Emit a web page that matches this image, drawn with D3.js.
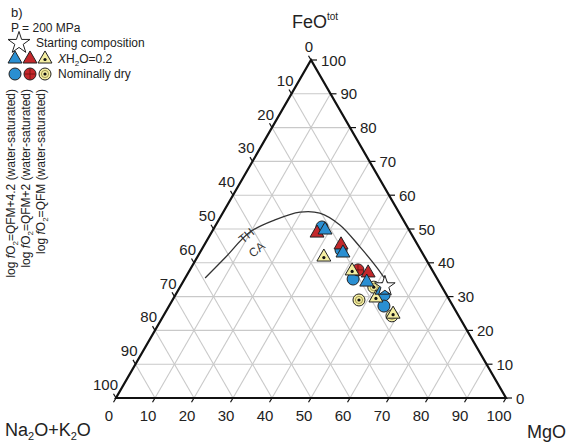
<!DOCTYPE html>
<html>
<head>
<meta charset="utf-8">
<script src="https://cdn.jsdelivr.net/npm/d3@7"></script>
<style>
  body { margin: 0; background: #fff; }
  svg { display: block; font-family: "Liberation Sans", Arial, sans-serif; }
</style>
</head>
<body>
<div id="root"></div>
<script>
// compositions as [Na2O+K2O, FeOtot, MgO] in percent
const blueTriangles = [[21.4, 50.0, 28.6], [20.2, 43.2, 36.6], [18.4, 34.6, 47.0], [15.7, 32.2, 52.1]];
const blueCircles = [[21.9, 50.6, 27.5], [20.4, 43.8, 35.8], [21.6, 35.2, 43.2], [16.0, 30.5, 53.5], [17.7, 27.2, 55.1]];
const redTriangles = [[23.9, 49.1, 27.0], [19.5, 45.6, 34.9], [16.7, 37.3, 46.0]];
const redCircles = [[19.0, 37.9, 43.1]];
const yellowTriangles = [[25.7, 42.0, 32.3], [20.5, 37.9, 41.6], [18.4, 29.9, 51.7], [16.4, 25.1, 58.5]];
const yellowCircles = [[17.5, 32.8, 49.7], [23.2, 29.0, 47.8], [17.1, 24.3, 58.6]];
const startComp = [[14.5, 33.1, 52.4]];
// TH / CA dividing curve
const thcaCurve = [[59.4, 35.5, 5.1], [51.4, 41.4, 7.2], [41.1, 49.1, 9.8], [32.9, 52.7, 14.4],
  [25.3, 55.0, 19.7], [20.4, 54.7, 24.9], [17.0, 51.2, 31.8], [14.9, 44.7, 40.2], [13.8, 38.5, 47.7], [13.3, 34.0, 52.7]];
const ticks = [0, 10, 20, 30, 40, 50, 60, 70, 80, 90, 100];
const legendRows = ["XH2O=0.2", "Nominally dry"];
const buffers = ["QFM+4.2", "QFM+2", "QFM"];

const width = 583;
const height = 445;
const colors = { blue: "#2a8fd2", red: "#c3282b", yellow: "#f4eea2" };
const stroke = "#222";

const svg = d3.select("#root").append("svg")
  .attr("width", width).attr("height", height)
  .attr("viewBox", `0 0 ${width} ${height}`);

// ternary projection via linear scales
const xScale = d3.scaleLinear().domain([0, 100]).range([116, 506]);
const yScale = d3.scaleLinear().domain([0, 100]).range([398, 60]);
const px = (d) => xScale(d[2] + d[1] / 2);
const py = (d) => yScale(d[1]);

// grid
const grid = svg.append("g").attr("stroke", "#c9c9c9").attr("stroke-width", 1.1).attr("fill", "none");
const inner = ticks.slice(1, -1);
inner.forEach((v) => {
  const lines = [
    [[100 - v, v, 0], [0, v, 100 - v]],
    [[100 - v, 0, v], [0, 100 - v, v]],
    [[v, 100 - v, 0], [v, 0, 100 - v]],
  ];
  lines.forEach(([a, b]) => {
    grid.append("line").attr("x1", px(a)).attr("y1", py(a)).attr("x2", px(b)).attr("y2", py(b));
  });
});

// frame
const corners = [[100, 0, 0], [0, 0, 100], [0, 100, 0]];
svg.append("path")
  .attr("d", "M" + corners.map((c) => `${px(c)},${py(c)}`).join("L") + "Z")
  .attr("fill", "none").attr("stroke", "#111").attr("stroke-width", 2.2)
  .attr("stroke-linejoin", "miter");

// tick marks + labels
const axisG = svg.append("g").attr("font-size", 15).attr("fill", "#222");
const tk = svg.append("g").attr("stroke", "#111").attr("stroke-width", 1.2);
ticks.forEach((v) => {
  // left edge: Na2O+K2O
  const l = [v, 100 - v, 0];
  tk.append("line").attr("x1", px(l)).attr("y1", py(l)).attr("x2", px(l) - 2.5).attr("y2", py(l) - 4.3);
  axisG.append("text").text(v).attr("x", px(l) + 2).attr("y", py(l) - 8).attr("text-anchor", "end");
  // right edge: FeO
  const r = [0, v, 100 - v];
  tk.append("line").attr("x1", px(r)).attr("y1", py(r)).attr("x2", px(r) + 6).attr("y2", py(r));
  axisG.append("text").text(v).attr("x", px(r) + 10).attr("y", py(r) + 5.5);
  // bottom edge: MgO
  const b = [100 - v, 0, v];
  tk.append("line").attr("x1", px(b)).attr("y1", py(b)).attr("x2", px(b) - 2.5).attr("y2", py(b) + 4.3);
  axisG.append("text").text(v).attr("x", px(b) - 7).attr("y", py(b) + 23).attr("text-anchor", "middle");
});

// vertex titles
const t1 = svg.append("text").attr("x", 292).attr("y", 28).attr("font-size", 18).attr("fill", "#222");
t1.append("tspan").text("FeO");
t1.append("tspan").text("tot").attr("font-size", 10).attr("dy", -8);
const t2 = svg.append("text").attr("x", 5).attr("y", 436).attr("font-size", 18).attr("fill", "#222");
t2.append("tspan").text("Na");
t2.append("tspan").text("2").attr("font-size", 11).attr("dy", 4);
t2.append("tspan").text("O+K").attr("dy", -4);
t2.append("tspan").text("2").attr("font-size", 11).attr("dy", 4);
t2.append("tspan").text("O").attr("dy", -4);
svg.append("text").attr("x", 527).attr("y", 438).attr("font-size", 18).attr("fill", "#222").text("MgO");

// TH / CA curve
svg.append("path")
  .attr("d", d3.line().x(px).y(py).curve(d3.curveCatmullRom)(thcaCurve))
  .attr("fill", "none").attr("stroke", "#333").attr("stroke-width", 1.3);
svg.append("text").text("TH").attr("font-size", 12).attr("fill", "#333")
  .attr("transform", "translate(243,244) rotate(-40)");
svg.append("text").text("CA").attr("font-size", 12).attr("fill", "#333")
  .attr("transform", "translate(253,258) rotate(-40)");

// markers
const triPath = d3.symbol(d3.symbolTriangle, 84)();
function drawTri(g, x, y, fill, dot) {
  g.append("path").attr("d", triPath).attr("transform", `translate(${x},${y + 1})`)
    .attr("fill", fill).attr("stroke", stroke).attr("stroke-width", 1);
  if (dot) g.append("circle").attr("cx", x).attr("cy", y + 1.5).attr("r", 1.6).attr("fill", "#111");
}
function drawCircle(g, x, y, fill, kind) {
  g.append("circle").attr("cx", x).attr("cy", y).attr("r", 6)
    .attr("fill", fill).attr("stroke", stroke).attr("stroke-width", 1);
  if (kind === "dot") {
    g.append("circle").attr("cx", x).attr("cy", y).attr("r", 3.6).attr("fill", "none")
      .attr("stroke", "#6a6020").attr("stroke-width", 0.6);
    g.append("circle").attr("cx", x).attr("cy", y).attr("r", 1.6).attr("fill", "#111");
  }
  if (kind === "cross") {
    g.append("path").attr("d", `M${x - 5.5},${y}H${x + 5.5}M${x},${y - 5.5}V${y + 5.5}`)
      .attr("stroke", "#6d1010").attr("stroke-width", 0.8);
  }
}
const pts = svg.append("g");
yellowCircles.forEach((d) => drawCircle(pts, px(d), py(d), colors.yellow, "dot"));
blueCircles.forEach((d) => drawCircle(pts, px(d), py(d), colors.blue));
redCircles.forEach((d) => drawCircle(pts, px(d), py(d), colors.red, "cross"));
yellowTriangles.forEach((d) => drawTri(pts, px(d), py(d), colors.yellow, true));
redTriangles.forEach((d) => drawTri(pts, px(d), py(d), colors.red, false));
blueTriangles.forEach((d) => drawTri(pts, px(d), py(d), colors.blue, false));
const starPath = d3.symbol(d3.symbolStar, 130)();
startComp.forEach((d) => {
  pts.append("path").attr("d", starPath).attr("transform", `translate(${px(d)},${py(d)})`)
    .attr("fill", "#fff").attr("stroke", stroke).attr("stroke-width", 1);
});

// legend
const lg = svg.append("g").attr("fill", "#222");
lg.append("text").text("b)").attr("x", 11).attr("y", 17).attr("font-size", 13);
lg.append("text").text("P = 200 MPa").attr("x", 11).attr("y", 32).attr("font-size", 12);
lg.append("path").attr("d", d3.symbol(d3.symbolStar, 150)()).attr("transform", "translate(19,43)")
  .attr("fill", "#fff").attr("stroke", stroke).attr("stroke-width", 1);
lg.append("text").text("Starting composition").attr("x", 36).attr("y", 47).attr("font-size", 12);
drawTri(lg, 15, 58, colors.blue, false);
drawTri(lg, 30, 58, colors.red, false);
drawTri(lg, 45, 58, colors.yellow, true);
const xh = lg.append("text").attr("x", 58).attr("y", 63).attr("font-size", 12);
xh.append("tspan").text("X").attr("font-style", "italic");
xh.append("tspan").text("H");
xh.append("tspan").text("2").attr("font-size", 8).attr("dy", 3);
xh.append("tspan").text("O=0.2").attr("dy", -3);
drawCircle(lg, 15, 74, colors.blue);
drawCircle(lg, 30, 74, colors.red, "cross");
drawCircle(lg, 45, 74, colors.yellow, "dot");
lg.append("text").text(legendRows[1]).attr("x", 58).attr("y", 78).attr("font-size", 12);

buffers.forEach((b, i) => {
  const t = lg.append("text").attr("font-size", 12).attr("text-anchor", "end")
    .attr("transform", `translate(${15 + i * 15},89) rotate(-90)`);
  t.append("tspan").text("log ");
  t.append("tspan").text("f").attr("font-style", "italic");
  t.append("tspan").text("O");
  t.append("tspan").text("2").attr("font-size", 8).attr("dy", 3);
  t.append("tspan").text(`=${b} (water-saturated)`).attr("dy", -3);
});
</script>
</body>
</html>
